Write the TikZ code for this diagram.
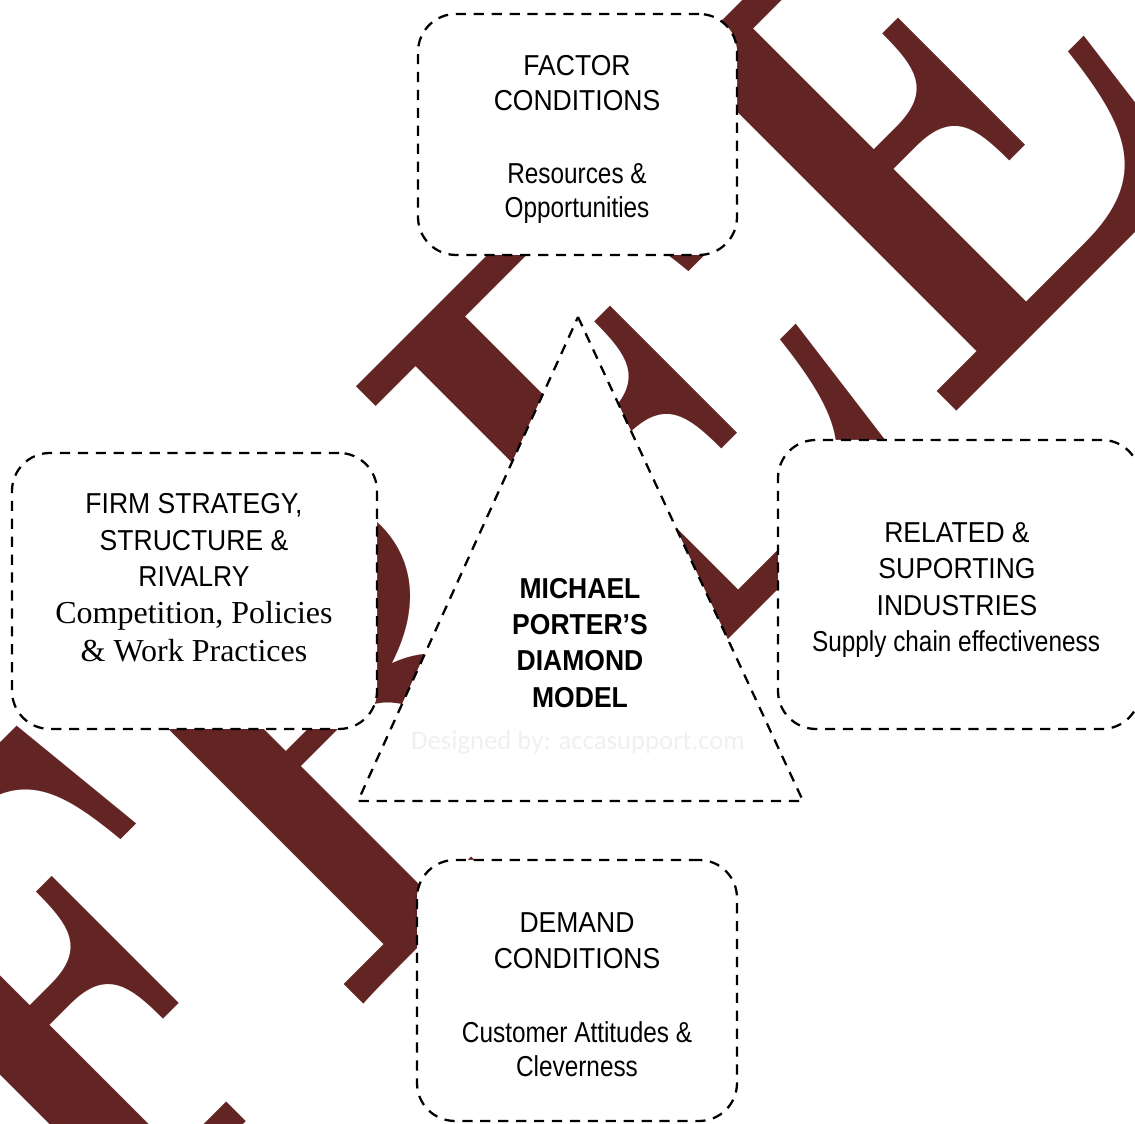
\documentclass[tikz,border=0pt]{standalone}
\usepackage{fontspec}
\usepackage{xcolor}
\usetikzlibrary{positioning}
\newfontfamily\capsf{Liberation Sans}[FakeStretch=0.92]
\newfontfamily\narrowsf{Liberation Sans}[FakeStretch=0.845]
\newfontfamily\textserif{Liberation Serif}
\newfontfamily\creditfont{Carlito}
\definecolor{wmred}{RGB}{99,36,36}
\definecolor{faintgray}{RGB}{240,240,240}

\tikzset{
  dashline/.style={draw=black, line width=0.65pt, dash pattern=on 2.9pt off 2.2pt},
  dashbox/.style={dashline, fill=white, rounded corners=0.38cm, inner sep=0pt},
  boxtext/.style={align=center, anchor=north, inner sep=0pt,
    font=\capsf\fontsize{8.2}{10.3}\selectfont},
  subtext/.style={boxtext, font=\narrowsf\fontsize{8.2}{9.6}\selectfont},
  wmark/.style={anchor=base west, inner sep=0pt, rotate=45, xscale=0.82,
    text=wmred, font=\rmfamily\bfseries\fontsize{184.6}{185}\selectfont},
}

\begin{document}
\begin{tikzpicture}
\clip (0,0) rectangle (11.35,11.24);
% watermark behind everything
\node[wmark] (free) at (0.925,-1.515) {F\kern-0.025em R\kern-0.03em E\kern0.03em E};

% the four boxes
\node[dashbox, minimum width=3.19cm, minimum height=2.41cm] (factor) at (5.775,9.895) {};  % top
\node[dashbox, minimum width=3.65cm, minimum height=2.76cm] (firm) at (1.945,5.33) {};  % left
\node[dashbox, minimum width=3.62cm, minimum height=2.89cm] (related) at (9.59,5.395) {};  % right
\node[dashbox, minimum width=3.20cm, minimum height=2.61cm] (demand) at (5.77,1.335) {};  % bottom

% centre triangle
\coordinate (apex) at (5.78,8.07);
\coordinate (baseL) at (3.58,3.23);
\coordinate (baseR) at (8.03,3.23);
\draw[dashline, fill=white] (apex) -- (baseR) -- (baseL) -- cycle;

% texts
\node[boxtext, font=\capsf\fontsize{8.2}{10}\selectfont] (factortext) at (5.77,10.69) {FACTOR\\CONDITIONS};
\node[subtext] (factorsub) at (5.77,9.61) {Resources \&\\Opportunities};
\node[boxtext] (firmtext) at (1.94,6.31) {FIRM STRATEGY,\\STRUCTURE \&\\RIVALRY};
\node[boxtext, font=\textserif\fontsize{9.1}{10.8}\selectfont] (firmsub) at (1.94,5.23) {Competition, Policies\\\& Work Practices};
\node[boxtext] (relatedtext) at (9.57,6.02) {RELATED \&\\SUPORTING\\INDUSTRIES};
\node[subtext, anchor=base] (relatedsub) at (9.56,4.72) {Supply chain effectiveness};
\node[boxtext, font=\capsf\bfseries\fontsize{8.2}{10.3}\selectfont] (diamondtext) at (5.80,5.463) {MICHAEL\\PORTER’S\\DIAMOND\\MODEL};
\node[boxtext] (demandtext) at (5.77,2.12) {DEMAND\\CONDITIONS};
\node[subtext] (demandsub) at (5.77,1.03) {Customer Attitudes \&\\Cleverness};
\node[inner sep=0pt, text=faintgray, font=\creditfont\fontsize{7.6}{8}\selectfont] (credit) at (5.78,3.81) {Designed by: accasupport.com};

\end{tikzpicture}
\end{document}
